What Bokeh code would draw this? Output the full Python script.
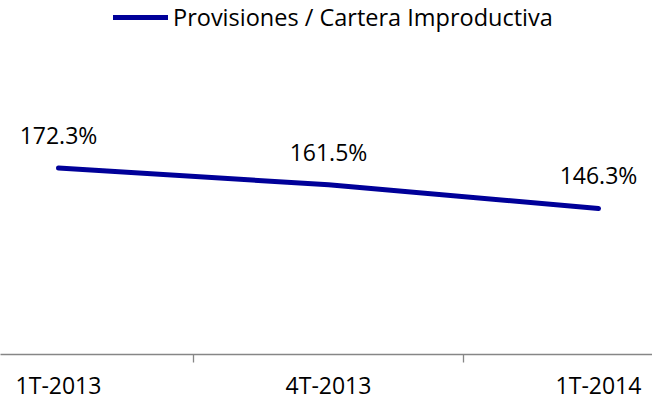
from bokeh.plotting import figure
from bokeh.models import (Range1d, LinearAxis, FixedTicker, Legend, LegendItem,
                          ColumnDataSource)
from bokeh.core.properties import value
from bokeh.embed import file_html
from bokeh.resources import INLINE

categories = ["1T-2013", "4T-2013", "1T-2014"]
ratio = [172.3, 161.5, 146.3]
labels = ["172.3%", "161.5%", "146.3%"]
series_name = "Provisiones / Cartera Improductiva"

FONT = "Open Sans"
LINE_COLOR = "#000099"
AXIS_COLOR = "#868686"

xs = list(range(len(categories)))
src = ColumnDataSource(dict(x=xs, y=ratio, label=labels))

p = figure(width=652, height=403, output_backend="svg", toolbar_location=None,
           x_axis_type=None, y_axis_type=None,
           x_range=Range1d(-0.2148, 2.2), y_range=Range1d(52.57, 279.83),
           min_border_left=0, min_border_right=0, min_border_top=0,
           min_border_bottom=40)
p.outline_line_color = None
p.xgrid.visible = False
p.ygrid.visible = False
p.background_fill_color = "white"
p.border_fill_color = "white"

ax = LinearAxis(ticker=FixedTicker(ticks=xs, minor_ticks=[0.5, 1.5]),
                major_label_overrides={i: c for i, c in enumerate(categories)})
ax.axis_line_color = AXIS_COLOR
ax.axis_line_width = 1.3
ax.major_tick_line_color = None
ax.major_tick_out = 0
ax.major_tick_in = 0
ax.minor_tick_line_color = AXIS_COLOR
ax.minor_tick_line_width = 1.3
ax.minor_tick_out = 8
ax.minor_tick_in = 0
ax.major_label_standoff = 6
ax.major_label_text_font = FONT
ax.major_label_text_font_size = "23px"
ax.major_label_text_baseline = "middle"
ax.major_label_text_color = "#000000"
p.add_layout(ax, "below")

r = p.line("x", "y", source=src, line_color=LINE_COLOR, line_width=5,
           line_cap="round", line_join="round")

p.text("x", "y", text="label", source=src, text_font=value(FONT),
       text_font_size="23px", text_color="#000000", text_align="center",
       text_baseline="alphabetic", y_offset=-33)

legend = Legend(items=[LegendItem(label=series_name, renderers=[r])],
                location=(113, 321), orientation="horizontal",
                border_line_color=None, background_fill_alpha=0,
                padding=0, margin=0, spacing=0,
                glyph_width=55, glyph_height=20, label_standoff=5,
                label_text_font=FONT, label_text_font_size="23.5px",
                label_text_color="#000000")
p.add_layout(legend, "center")

open("out.html", "w").write(file_html(p, INLINE))
